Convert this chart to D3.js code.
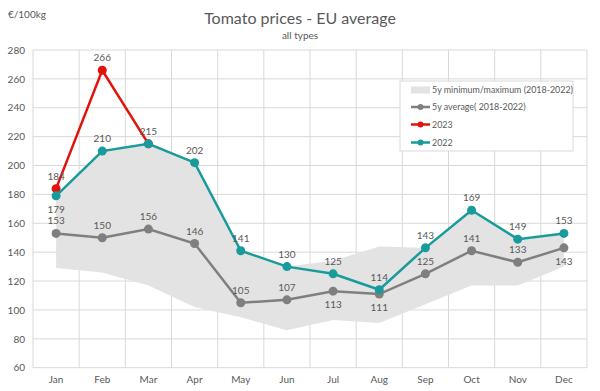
<!DOCTYPE html>
<html>
<head>
<meta charset="utf-8">
<script src="https://cdn.jsdelivr.net/npm/d3@7"></script>
<style>
	body { margin: 0; background: #fff; }
	text { font-family: Lato, "Open Sans", sans-serif; fill: #595959; }
</style>
</head>
<body>
<div id="chart-area"></div>
<script>
// data
let months = ["Jan","Feb","Mar","Apr","May","Jun","Jul","Aug","Sep","Oct","Nov","Dec"];
let avg5y = [153,150,156,146,105,107,113,111,125,141,133,143];
let y2022 = [179,210,215,202,141,130,125,114,143,169,149,153];
let y2023 = [184,266,215];
let min5y = [129,126,117,102,95,86,93,91,104,117,117,130];
let max5y = [179,210,215,202,141,130,134,144,143,169,149,153];
let yTicks = [60,80,100,120,140,160,180,200,220,240,260,280];

// label placement: 1 = above, -1 = below
let avgLabelPos = [1,1,1,1,1,1,-1,-1,1,1,1,-1];
let y2022LabelPos = [-1,1,1,1,1,1,1,1,1,1,1,1];

let width = 600, height = 391;
let colGray = "#7f7f7f", colRed = "#e3120b", colTeal = "#1a9b9b";

let svg = d3.select("#chart-area").append("svg")
	.attr("width", width)
	.attr("height", height);

let x = d3.scaleBand()
	.domain(months)
	.range([33, 587]);

let y = d3.scaleLinear()
	.domain([60, 280])
	.range([367.7, 50]);

let cx = d => x(d) + x.bandwidth() / 2;

// grid
svg.append("g").selectAll("line.h").data(yTicks).enter()
	.append("line")
	.attr("x1", 33).attr("x2", 587)
	.attr("y1", d => y(d)).attr("y2", d => y(d))
	.style("stroke", "#d9d9d9").style("stroke-width", 1);

let bounds = months.map(m => x(m)).concat([587]);
svg.append("g").selectAll("line.v").data(bounds).enter()
	.append("line")
	.attr("x1", d => d).attr("x2", d => d)
	.attr("y1", y(280)).attr("y2", y(60))
	.style("stroke", "#d9d9d9").style("stroke-width", 1);

// axes (text only)
let yAxis = d3.axisLeft(y).tickValues(yTicks).tickSize(0).tickPadding(8);
let gy = svg.append("g").attr("transform", "translate(33,0)").call(yAxis);
gy.select(".domain").remove();
gy.selectAll("text").style("font-size", "10px").style("fill", "#595959");

let xAxis = d3.axisBottom(x).tickSize(0).tickPadding(8);
let gx = svg.append("g").attr("transform", "translate(0," + y(60) + ")").call(xAxis);
gx.select(".domain").remove();
gx.selectAll("text").style("font-size", "10px").style("fill", "#595959");

// band min/max
let area = d3.area()
	.x((d, i) => cx(months[i]))
	.y0((d, i) => y(min5y[i]))
	.y1((d, i) => y(max5y[i]));
svg.append("path")
	.datum(max5y)
	.attr("d", area)
	.style("fill", "#e3e3e3");

// lines
function drawSeries(values, color, r) {
	let line = d3.line()
		.x((d, i) => cx(months[i]))
		.y(d => y(d));
	svg.append("path")
		.datum(values)
		.attr("d", line)
		.style("fill", "none")
		.style("stroke", color)
		.style("stroke-width", 2.5);
	svg.append("g").selectAll("circle").data(values).enter()
		.append("circle")
		.attr("cx", (d, i) => cx(months[i]))
		.attr("cy", d => y(d))
		.attr("r", r)
		.style("fill", color);
}

function drawLabels(values, pos) {
	svg.append("g").selectAll("text").data(values).enter()
		.append("text")
		.attr("x", (d, i) => cx(months[i]))
		.attr("y", (d, i) => pos[i] > 0 ? y(d) - 9 : y(d) + 17)
		.attr("text-anchor", "middle")
		.style("font-size", "10px")
		.text(d => d);
}

drawSeries(avg5y, colGray, 4.5);
drawSeries(y2023, colRed, 4.5);
drawSeries(y2022, colTeal, 4.5);

drawLabels(avg5y, avgLabelPos);
drawLabels(y2022, y2022LabelPos);
drawLabels(y2023.slice(0, 2), [1, 1]);

// titles
svg.append("text")
	.attr("x", 300).attr("y", 24)
	.attr("text-anchor", "middle")
	.style("font-size", "16px")
	.text("Tomato prices - EU average");

svg.append("text")
	.attr("x", 300).attr("y", 39)
	.attr("text-anchor", "middle")
	.style("font-size", "10px")
	.text("all types");

svg.append("text")
	.attr("x", 8).attr("y", 18)
	.style("font-size", "10px")
	.text("€/100kg");

// legend
let legend = svg.append("g");
legend.append("rect")
	.attr("x", 400).attr("y", 81)
	.attr("width", 173).attr("height", 70)
	.style("fill", "#fff")
	.style("stroke", "#d9d9d9");

let legendItems = [
	{label: "5y minimum/maximum (2018-2022)", color: "#e3e3e3", band: true},
	{label: "5y average( 2018-2022)", color: colGray},
	{label: "2023", color: colRed},
	{label: "2022", color: colTeal}
];
let legendY = [90, 107, 124.5, 142.5];

legendItems.forEach((item, i) => {
	let ly = legendY[i];
	if (item.band) {
		legend.append("rect")
			.attr("x", 411).attr("y", ly - 3.5)
			.attr("width", 19).attr("height", 7)
			.style("fill", item.color);
	} else {
		legend.append("line")
			.attr("x1", 411).attr("x2", 430)
			.attr("y1", ly).attr("y2", ly)
			.style("stroke", item.color).style("stroke-width", 2.5);
		legend.append("circle")
			.attr("cx", 420.5).attr("cy", ly).attr("r", 3)
			.style("fill", item.color);
	}
	legend.append("text")
		.attr("x", 432).attr("y", ly + 3.2)
		.style("font-size", "8.9px")
		.text(item.label);
});
</script>
</body>
</html>
